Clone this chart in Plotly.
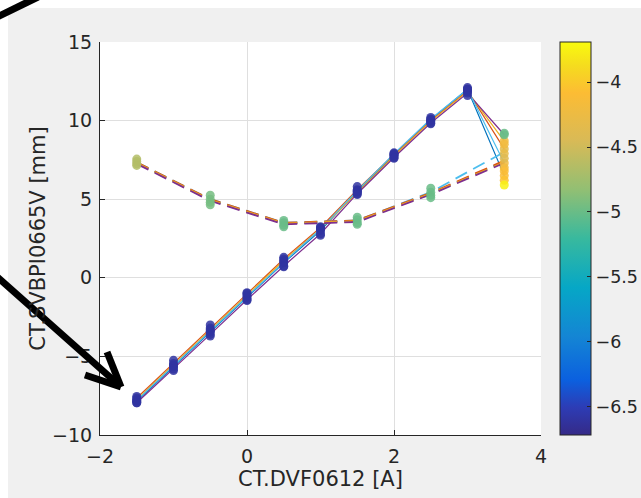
import plotly.graph_objects as go

# ---------------- data ----------------
x_up = [-1.5, -1.0, -0.5, 0.0, 0.5, 1.0, 1.5, 2.0, 2.5, 3.0, 3.5]
x_dn = [-1.5, -0.5, 0.5, 1.5, 2.5, 3.5]

# solid (averaged) lines
solid_blue   = [-7.85, -5.65, -3.45, -1.3, 0.95, 3.0, 5.5, 7.8, 10.05, 12.0, 6.5]
solid_orange = [-7.65, -5.45, -3.2, -1.0, 1.2, 3.2, 5.6, 7.85, 10.0, 11.9, 8.2]
solid_yellow = [-7.75, -5.55, -3.3, -1.1, 1.1, 3.1, 5.45, 7.75, 9.95, 11.85, 8.7]
solid_purple = [-7.95, -5.8, -3.6, -1.4, 0.75, 2.8, 5.35, 7.65, 9.85, 11.75, 9.1]
solid_ltblue = [-7.8, -5.6, -3.4, -1.2, 1.0, 3.1, 5.55, 7.9, 10.1, 12.0, 7.3]

c_solid_end = [-4.1, -4.35, -4.2, -5.0, -4.2]  # colour value of each run at 3.5 A

# individual solid samples (markers)
x_up_s = [-1.5, -1.0, -0.5, 0.0, 0.5, 1.0, 1.5, 2.0, 2.5, 3.0]
solid_s_hi = [-7.55, -5.25, -3.0, -0.95, 1.3, 3.25, 5.8, 7.95, 10.2, 12.1]
solid_s_lo = [-7.95, -5.9, -3.7, -1.45, 0.7, 2.7, 5.3, 7.6, 9.8, 11.6]
c_solid_s = [-6.6, -6.6, -6.6, -6.6, -6.6, -6.6, -6.6, -6.6, -6.6, -6.6]

# dashed (averaged) lines
dash_blue   = [7.3, 4.95, 3.45, 3.6, 5.35, 7.4]
dash_orange = [7.35, 5.0, 3.5, 3.65, 5.4, 7.45]
dash_yellow = [7.3, 4.95, 3.45, 3.6, 5.35, 7.35]
dash_purple = [7.25, 4.9, 3.4, 3.55, 5.3, 7.3]
dash_ltblue = [7.35, 5.0, 3.5, 3.65, 5.45, 8.0]

# individual dashed samples (markers)
x_dn_s = [-1.5, -0.5, 0.5, 1.5, 2.5]
dash_s1 = [7.55, 5.25, 3.65, 3.85, 5.7]
dash_s2 = [7.4, 5.0, 3.5, 3.7, 5.45]
dash_s3 = [7.25, 4.8, 3.35, 3.5, 5.25]
dash_s4 = [7.15, 4.65, 3.25, 3.4, 5.1]
c_dash_s = [-4.65, -4.95, -5.0, -5.0, -5.0]

# samples at 3.5 A
x_extra = [3.5, 3.5, 3.5, 3.5, 3.5, 3.5, 3.5, 3.5]
y_extra = [9.2, 8.5, 7.9, 7.6, 7.0, 6.8, 6.2, 5.9]
c_extra = [-5.0, -4.2, -4.3, -4.4, -4.2, -4.1, -4.05, -3.75]

line_colors = ["#0072BD", "#D95319", "#EDB120", "#7E2F8E", "#4DBEEE"]
solid_runs = [solid_blue, solid_orange, solid_yellow, solid_purple, solid_ltblue]
dash_runs = [dash_ltblue, dash_blue, dash_orange, dash_yellow, dash_purple]
dash_colors = ["#4DBEEE", "#0072BD", "#D95319", "#EDB120", "#7E2F8E"]

x_ticks = [-2, 0, 2, 4]
y_ticks = [-10, -5, 0, 5, 10, 15]
cb_ticks = [-6.5, -6, -5.5, -5, -4.5, -4]
c_min, c_max = -6.72, -3.69

parula = [
    [0.00, "#352a87"], [0.07, "#2d3cb5"], [0.14, "#0b60df"],
    [0.25, "#1485d4"], [0.375, "#06a7c6"], [0.50, "#38b99e"],
    [0.625, "#92bf73"], [0.75, "#d9ba56"], [0.87, "#fcbc34"],
    [0.94, "#f5dc1e"], [1.00, "#f9fb0e"],
]

# ---------------- figure ----------------
fig = go.Figure()

for col, ys in zip(line_colors, solid_runs):
    fig.add_trace(go.Scatter(x=x_up, y=ys, mode="lines",
                             line=dict(color=col, width=1.2), hoverinfo="skip"))
for col, ys in zip(dash_colors, dash_runs):
    fig.add_trace(go.Scatter(x=x_dn, y=ys, mode="lines",
                             line=dict(color=col, width=1.8, dash="13px,7px"),
                             hoverinfo="skip"))

mk = dict(size=9, coloraxis="coloraxis", opacity=0.85, line=dict(width=0))
for ys in solid_runs:
    fig.add_trace(go.Scatter(x=x_up_s, y=ys[:10], mode="markers",
                             marker=dict(color=c_solid_s, **mk)))
for ys in [solid_s_hi, solid_s_lo]:
    fig.add_trace(go.Scatter(x=x_up_s, y=ys, mode="markers",
                             marker=dict(color=c_solid_s, **mk)))
fig.add_trace(go.Scatter(x=[3.5] * len(solid_runs), y=[r[-1] for r in solid_runs],
                         mode="markers", marker=dict(color=c_solid_end, **mk)))
for ys in [dash_s1, dash_s2, dash_s3, dash_s4]:
    fig.add_trace(go.Scatter(x=x_dn_s, y=ys, mode="markers",
                             marker=dict(color=c_dash_s, **mk)))
fig.add_trace(go.Scatter(x=x_extra, y=y_extra, mode="markers",
                         marker=dict(color=c_extra, **mk)))

W, H = 641, 498
L, R, T, B = 100, 100, 42, 63
pw, ph = W - L - R, H - T - B


def px(x):
    return (x - L) / pw


def py(y):
    return (H - B - y) / ph


ink = "#262626"
shapes = [
    dict(type="rect", xref="paper", yref="paper", x0=px(-2), x1=px(W + 2),
         y0=py(8), y1=py(-2), fillcolor="white", line=dict(width=0), layer="above"),
    dict(type="rect", xref="paper", yref="paper", x0=px(-2), x1=px(8),
         y0=py(H + 2), y1=py(-2), fillcolor="white", line=dict(width=0), layer="above"),
]
arrow_lines = [
    ((-6, 274), (120, 386)),
    ((107, 352), (121, 387)),
    ((85, 375), (121, 387)),
    ((-3, 17), (38, -3)),
]
for (a, b) in arrow_lines:
    shapes.append(dict(type="line", xref="paper", yref="paper",
                       x0=px(a[0]), y0=py(a[1]), x1=px(b[0]), y1=py(b[1]),
                       line=dict(color="black", width=7), layer="above"))

axis_common = dict(
    showline=True, linecolor=ink, linewidth=1, mirror=False,
    ticks="inside", ticklen=5, tickcolor=ink, tickwidth=1,
    showgrid=True, gridcolor="#dfdfdf", gridwidth=1, zeroline=False,
    tickfont=dict(size=19, color=ink, family="DejaVu Sans"),
)

fig.update_layout(
    width=W, height=H,
    margin=dict(l=L, r=R, t=T, b=B, pad=0, autoexpand=False),
    paper_bgcolor="#f0f0f0", plot_bgcolor="white",
    showlegend=False,
    font=dict(family="DejaVu Sans", color=ink),
    xaxis=dict(range=[-2, 4], tickvals=x_ticks, ticklabelstandoff=4,
               title=dict(text="CT.DVF0612 [A]", font=dict(size=21, color=ink), standoff=5),
               **axis_common),
    yaxis=dict(range=[-10, 15], tickvals=y_ticks, ticklabelstandoff=3,
               title=dict(text="CT.SVBPI0665V [mm]", font=dict(size=21, color=ink), standoff=0),
               **axis_common),
    coloraxis=dict(
        colorscale=parula, cmin=c_min, cmax=c_max,
        colorbar=dict(
            x=px(560), xanchor="left", xpad=0, ypad=0, y=0.5, yanchor="middle",
            len=1, lenmode="fraction", thickness=31, thicknessmode="pixels",
            outlinewidth=1, outlinecolor=ink,
            ticks="inside", ticklen=4, tickcolor=ink,
            tickvals=cb_ticks,
            tickfont=dict(size=17.5, color=ink, family="DejaVu Sans"),
        ),
    ),
    shapes=shapes,
)

fig.write_html("out.html")
